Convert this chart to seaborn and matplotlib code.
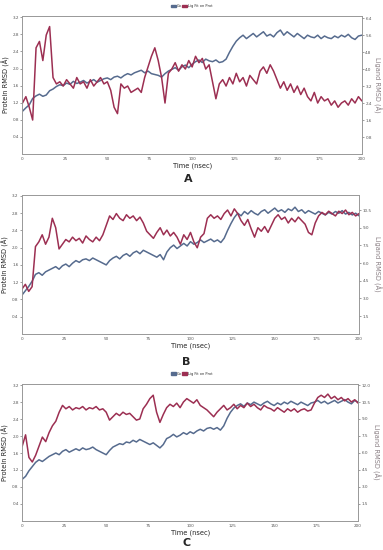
import numpy as np
import matplotlib
matplotlib.use("Agg")
import matplotlib.pyplot as plt
import matplotlib.patches as mpatches
from matplotlib.ticker import FormatStrFormatter
import seaborn as sns

# time axis (ns), one value every 2 ns
time_ns = list(range(0, 201, 2))

# panel A
prot_a = [1.00, 1.08, 1.15, 1.30, 1.36, 1.40, 1.35, 1.38, 1.48, 1.52, 1.58,
          1.62, 1.60, 1.66, 1.63, 1.70, 1.65, 1.68, 1.72, 1.66, 1.70,
          1.74, 1.68, 1.72, 1.76, 1.78, 1.74, 1.80, 1.82, 1.78, 1.84,
          1.88, 1.85, 1.90, 1.93, 1.96, 1.90, 1.94, 1.88, 1.86, 1.84,
          1.80, 1.88, 1.94, 1.98, 2.02, 1.96, 2.04, 2.08, 2.02, 2.10,
          2.16, 2.20, 2.14, 2.22, 2.18, 2.16, 2.20, 2.14, 2.16, 2.22,
          2.38, 2.52, 2.64, 2.72, 2.78, 2.70, 2.76, 2.82, 2.74, 2.80,
          2.86, 2.76, 2.80, 2.74, 2.84, 2.90, 2.78, 2.86, 2.80, 2.74,
          2.82, 2.76, 2.70, 2.78, 2.74, 2.72, 2.78, 2.70, 2.76, 2.72,
          2.70, 2.76, 2.72, 2.78, 2.74, 2.80, 2.72, 2.68, 2.76, 2.78]
lig_a = [2.4, 2.7, 2.2, 1.6, 5.0, 5.3, 4.4, 5.6, 6.0, 3.6,
         3.3, 3.4, 3.2, 3.5, 3.3, 3.1, 3.6, 3.3, 3.4, 3.1,
         3.5, 3.2, 3.4, 3.6, 3.3, 3.4, 3.0, 2.2, 1.9, 3.3,
         3.1, 3.2, 2.9, 3.0, 3.1, 2.9, 3.6, 4.1, 4.6, 5.0,
         4.4, 3.6, 2.4, 3.8, 4.0, 4.3, 3.9, 4.2, 4.0, 4.4,
         4.1, 4.6, 4.3, 4.5, 4.0, 4.2, 3.4, 2.6, 3.3, 3.5,
         3.2, 3.6, 3.3, 3.8, 3.4, 3.6, 3.2, 3.7, 3.5, 3.3,
         3.9, 4.1, 3.8, 4.2, 3.9, 3.5, 3.1, 3.4, 3.0, 3.3,
         2.9, 3.2, 2.8, 3.1, 2.7, 2.5, 2.9, 2.4, 2.7, 2.5,
         2.6, 2.3, 2.5, 2.2, 2.4, 2.5, 2.3, 2.6, 2.4, 2.7, 2.5]

# panel B
prot_b = [0.90, 1.00, 1.10, 1.22, 1.38, 1.42, 1.36, 1.44, 1.48, 1.52,
          1.56, 1.50, 1.58, 1.62, 1.56, 1.64, 1.70, 1.66, 1.72, 1.74,
          1.70, 1.76, 1.72, 1.68, 1.64, 1.60, 1.70, 1.76, 1.80, 1.74,
          1.82, 1.86, 1.80, 1.88, 1.92, 1.86, 1.94, 1.90, 1.86, 1.82,
          1.78, 1.84, 1.72, 1.90, 2.00, 2.06, 1.98, 2.04, 2.10, 2.04,
          2.14, 2.08, 2.12, 2.18, 2.12, 2.16, 2.20, 2.14, 2.18, 2.12,
          2.22, 2.40, 2.56, 2.70, 2.80, 2.74, 2.84, 2.78, 2.86, 2.80,
          2.76, 2.84, 2.88, 2.80, 2.86, 2.92, 2.84, 2.88, 2.82, 2.90,
          2.86, 2.94, 2.84, 2.88, 2.80, 2.86, 2.82, 2.78, 2.84, 2.80,
          2.76, 2.82, 2.78, 2.84, 2.80, 2.86, 2.78, 2.82, 2.76, 2.80, 2.74]
lig_b = [3.8, 4.2, 3.6, 4.0, 7.4, 7.8, 8.4, 7.6, 8.2, 9.8,
         9.0, 7.2, 7.6, 8.0, 7.8, 8.2, 7.9, 8.1, 7.7, 8.3,
         8.0, 7.8, 8.2, 7.9, 8.4, 9.2, 10.0, 9.7, 10.2, 9.8,
         9.6, 10.1, 9.8, 10.0, 9.6, 9.9, 9.4, 8.7, 8.4, 8.1,
         8.6, 9.0, 8.4, 8.8, 8.3, 8.6, 8.2, 7.6, 8.4, 8.0,
         8.6, 7.8, 7.3, 8.2, 8.5, 9.8, 10.1, 9.8, 10.0, 9.7,
         10.2, 10.5, 10.0, 10.6, 10.2, 9.6, 9.2, 9.7, 8.9, 8.2,
         9.0, 8.7, 9.1, 8.6, 9.2, 9.8, 10.1, 9.7, 9.9, 9.4,
         9.8, 9.5, 9.9, 9.6, 9.3, 8.6, 8.4, 9.4, 10.0, 10.3,
         10.1, 10.4, 10.2, 10.0, 10.4, 10.2, 10.5, 10.1, 10.3, 10.0, 10.2]

# panel C
prot_c = [0.98, 1.05, 1.18, 1.28, 1.38, 1.44, 1.40, 1.46, 1.52, 1.56,
          1.60, 1.56, 1.64, 1.68, 1.62, 1.66, 1.70, 1.66, 1.72, 1.68,
          1.70, 1.74, 1.68, 1.64, 1.60, 1.56, 1.66, 1.74, 1.78, 1.82,
          1.80, 1.86, 1.84, 1.90, 1.86, 1.92, 1.88, 1.84, 1.80, 1.84,
          1.78, 1.72, 1.80, 1.94, 1.98, 2.04, 1.98, 2.02, 2.08, 2.04,
          2.10, 2.06, 2.12, 2.16, 2.12, 2.18, 2.20, 2.16, 2.20, 2.14,
          2.24, 2.42, 2.56, 2.66, 2.72, 2.76, 2.70, 2.78, 2.74, 2.80,
          2.76, 2.72, 2.78, 2.82, 2.76, 2.72, 2.78, 2.74, 2.80, 2.76,
          2.82, 2.78, 2.74, 2.80, 2.76, 2.72, 2.78, 2.80, 2.84, 2.78,
          2.82, 2.76, 2.80, 2.84, 2.78, 2.82, 2.86, 2.80, 2.76, 2.84, 2.80]
lig_c = [6.6, 7.6, 5.6, 5.2, 5.8, 6.6, 7.4, 7.0, 7.8, 8.4,
         8.8, 9.6, 10.2, 9.9, 10.1, 9.8, 10.0, 9.9, 10.1, 9.8,
         10.0, 9.9, 10.1, 9.8, 9.9, 9.6, 8.9, 9.2, 9.5, 9.3,
         9.6, 9.4, 9.5, 9.2, 8.9, 9.0, 9.9, 10.3, 10.8, 11.1,
         9.6, 8.7, 9.4, 10.0, 10.3, 10.1, 10.4, 10.0, 10.5, 10.8,
         10.6, 10.4, 10.7, 10.2, 10.0, 9.8, 9.5, 9.2, 9.6, 9.9,
         10.2, 9.8, 10.0, 10.3, 9.9, 10.2, 10.0, 10.4, 10.1, 10.3,
         10.0, 9.8, 10.2, 10.0, 9.9, 9.7, 10.0, 9.8, 9.6, 9.9,
         9.7, 9.9, 9.6, 9.8, 9.9, 9.7, 9.8, 10.4, 10.9, 11.1,
         10.9, 11.2, 10.8, 11.0, 10.7, 10.9, 10.6, 10.8, 10.5, 10.7, 10.4]

prot_ticks = [0.4, 0.8, 1.2, 1.6, 2.0, 2.4, 2.8, 3.2]
lig_ticks_a = [0.8, 1.6, 2.4, 3.2, 4.0, 4.8, 5.6, 6.4]
lig_ticks_b = [1.5, 3.0, 4.5, 6.0, 7.5, 9.0, 10.5]
lig_ticks_c = [1.5, 3.0, 4.5, 6.0, 7.5, 9.0, 10.5, 12.0]
time_ticks = [0, 25, 50, 75, 100, 125, 150, 175, 200]

BLUE = "#566b8e"
RED = "#9c2f52"

sns.set_theme(style="white")
plt.rcParams['font.family'] = ['DejaVu Sans']

fig = plt.figure(figsize=(3.83, 5.5), dpi=100)

# letter, protein, ligand, right ticks, right top, axes rect, letter y (px from top)
panels = [
    ("A", prot_a, lig_a, lig_ticks_a, 6.5, [0.0587, 0.720, 0.886, 0.251], 179),
    ("B", prot_b, lig_b, lig_ticks_b, 11.8, [0.0574, 0.393, 0.880, 0.253], 362),
    ("C", prot_c, lig_c, lig_ticks_c, 12.1, [0.0580, 0.053, 0.877, 0.249], 543),
]

for letter, prot, lig, lticks, ltop, rect, ly in panels:
    ax = fig.add_axes(rect)
    ax2 = ax.twinx()
    sns.lineplot(x=time_ns, y=prot, ax=ax, color=BLUE, linewidth=1.1)
    sns.lineplot(x=time_ns, y=lig, ax=ax2, color=RED, linewidth=1.1)
    ax.set_xlim(0, 200)
    ax.set_ylim(0, 3.23)
    ax2.set_ylim(0, ltop)
    ax.set_xticks(time_ticks)
    ax.set_yticks(prot_ticks)
    ax2.set_yticks(lticks)
    ax.yaxis.set_major_formatter(FormatStrFormatter('%.1f'))
    ax2.yaxis.set_major_formatter(FormatStrFormatter('%.1f'))
    for a in (ax, ax2):
        a.tick_params(labelsize=3, length=1.5, width=0.4, pad=1, colors="#555555")
        for s in a.spines.values():
            s.set_color("#999999")
            s.set_linewidth(0.6)
    ax.set_xlabel("Time (nsec)", fontsize=4.8, labelpad=1, color="#222222")
    ax.set_ylabel("Protein RMSD (Å)", fontsize=4.8, labelpad=2, color="#222222")
    ax2.set_ylabel("Ligand RMSD (Å)", fontsize=4.8, labelpad=7, rotation=270,
                   color="#8a7f84")
    fig.text(rect[0] + rect[2] / 2 - 0.01, 1 - ly / 550, letter,
             fontsize=8, fontweight="bold", ha="center", va="center")

handles = [mpatches.Patch(color=BLUE, label="Cα"),
           mpatches.Patch(color=RED, label="Lig Fit on Prot")]
for ypos in (0.989, 0.320):
    fig.legend(handles=handles, loc="center", bbox_to_anchor=(0.5, ypos),
               ncol=2, fontsize=2.5, frameon=False, handlelength=1.6,
               handleheight=0.8, columnspacing=0.2, handletextpad=0.1)

fig.savefig("out.png", dpi=100)
